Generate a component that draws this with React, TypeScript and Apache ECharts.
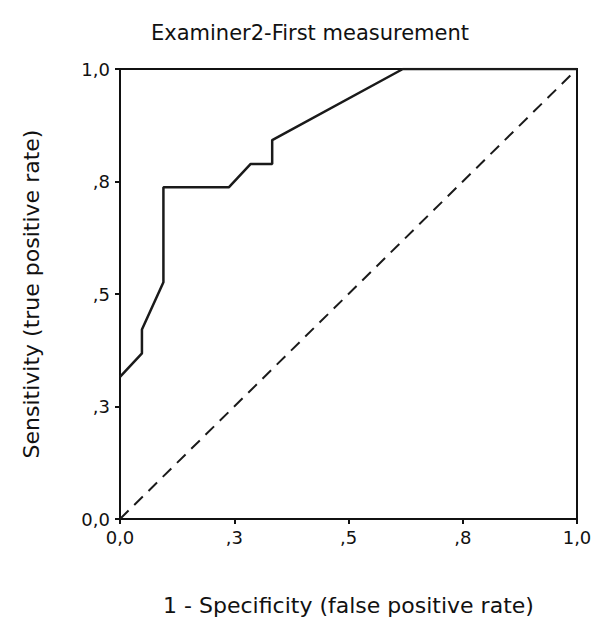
import React, { useEffect, useRef } from "react";
import * as echarts from "echarts";

const titleText = "Examiner2-First measurement";
const xName = "1 - Specificity (false positive rate)";
const yName = "Sensitivity (true positive rate)";
const tickLabels = ["0,0", ",3", ",5", ",8", "1,0"];
const fpr = [0, 0.048, 0.048, 0.095, 0.095, 0.238, 0.286, 0.333, 0.333, 0.619, 1.0];
const tpr = [0.316, 0.368, 0.421, 0.526, 0.737, 0.737, 0.789, 0.789, 0.842, 1.0, 1.0];
const refX = [0, 1];
const refY = [0, 1];

const FONT = "DejaVu Sans";

export default function App() {
  const ref = useRef<HTMLDivElement>(null);
  useEffect(() => {
    if (!ref.current) return;
    const chart = echarts.init(ref.current, null, { renderer: "svg" });
    const fmt = (v: number) => tickLabels[Math.round(v / 0.25)] ?? "";
    const axisCommon = {
      type: "value" as const,
      min: 0,
      max: 1,
      interval: 0.25,
      nameLocation: "middle" as const,
      nameTextStyle: { fontFamily: FONT, fontSize: 22, color: "#111" },
      axisLine: { show: true, lineStyle: { color: "#111", width: 2 } },
      axisTick: { show: true, length: 5, inside: false, lineStyle: { color: "#111", width: 2 } },
      axisLabel: { formatter: fmt, fontFamily: FONT, fontSize: 18, color: "#111" },
      splitLine: { show: false },
    };
    chart.setOption({
      animation: false,
      backgroundColor: "#ffffff",
      title: {
        text: titleText,
        left: 305,
        top: 17,
        textAlign: "center",
        textStyle: { fontFamily: FONT, fontSize: 21, fontWeight: "normal", color: "#111" },
      },
      grid: {
        left: 120,
        right: 20,
        top: 69,
        bottom: 107,
        show: true,
        borderColor: "#111",
        borderWidth: 2,
        backgroundColor: "transparent",
      },
      xAxis: {
        ...axisCommon,
        name: xName,
        nameGap: 75,
        axisLabel: { ...axisCommon.axisLabel, margin: 9 },
      },
      yAxis: {
        ...axisCommon,
        name: yName,
        nameGap: 78,
        nameRotate: 90,
        axisLabel: { ...axisCommon.axisLabel, margin: 10 },
      },
      series: [
        {
          type: "line",
          data: fpr.map((x, i) => [x, tpr[i]]),
          showSymbol: false,
          symbol: "none",
          lineStyle: { color: "#1a1a1a", width: 2.5 },
        },
        {
          type: "line",
          data: refX.map((x, i) => [x, refY[i]]),
          showSymbol: false,
          symbol: "none",
          lineStyle: { color: "#1a1a1a", width: 2, type: [12, 8] },
        },
      ],
    });
    return () => chart.dispose();
  }, []);
  return (
    <div
      ref={ref}
      style={{ position: "fixed", left: 0, top: 0, width: 597, height: 626, background: "#fff" }}
    />
  );
}
